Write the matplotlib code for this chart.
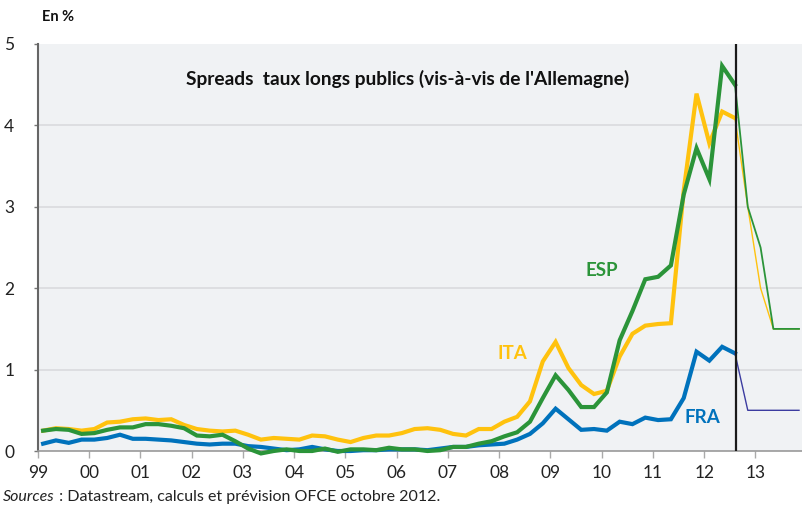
import numpy as np
import matplotlib
matplotlib.use("Agg")
import matplotlib.pyplot as plt

plt.rcParams['font.family'] = ['Lato', 'DejaVu Sans']

# quarterly spreads vs Germany, 1999Q1 - 2012Q3 (observed)
esp = [0.25, 0.27, 0.26, 0.21, 0.22, 0.26, 0.29, 0.29, 0.33, 0.33,
       0.31, 0.28, 0.19, 0.18, 0.20, 0.12, 0.03, -0.03, 0.00, 0.02,
       0.00, 0.00, 0.03, -0.01, 0.02, 0.02, 0.01, 0.04, 0.02, 0.02,
       0.00, 0.01, 0.05, 0.05, 0.09, 0.12, 0.18, 0.23, 0.36,
       0.65, 0.93, 0.75, 0.54, 0.54, 0.72, 1.36, 1.72, 2.11, 2.14,
       2.28, 3.15, 3.72, 3.34, 4.73, 4.50]
ita = [0.25, 0.28, 0.27, 0.25, 0.27, 0.35, 0.36, 0.39, 0.40, 0.38,
       0.39, 0.32, 0.27, 0.25, 0.24, 0.25, 0.20, 0.14, 0.16, 0.15,
       0.14, 0.19, 0.18, 0.14, 0.11, 0.16, 0.19, 0.19, 0.22, 0.27,
       0.28, 0.26, 0.21, 0.19, 0.27, 0.27, 0.36, 0.42, 0.61,
       1.10, 1.34, 1.02, 0.81, 0.70, 0.74, 1.16, 1.44, 1.54, 1.56,
       1.57, 3.20, 4.39, 3.78, 4.17, 4.09]
fra = [0.09, 0.13, 0.10, 0.14, 0.14, 0.16, 0.20, 0.15, 0.15, 0.14,
       0.13, 0.11, 0.09, 0.08, 0.09, 0.09, 0.06, 0.05, 0.03, 0.01,
       0.02, 0.05, 0.02, 0.00, 0.00, 0.01, 0.01, 0.02, 0.02, 0.02,
       0.01, 0.03, 0.05, 0.05, 0.07, 0.08, 0.09, 0.14, 0.21,
       0.34, 0.52, 0.39, 0.26, 0.27, 0.25, 0.36, 0.33, 0.41, 0.38,
       0.39, 0.65, 1.22, 1.11, 1.28, 1.20]

# OFCE forecast, 2012Q3 - 2013Q4
esp_prev = [4.50, 3.0, 2.5, 1.5, 1.5, 1.5]
ita_prev = [4.09, 3.0, 2.0, 1.5, 1.5, 1.5]
fra_prev = [1.20, 0.5, 0.5, 0.5, 0.5, 0.5]

year_labels = ['99', '00', '01', '02', '03', '04', '05', '06',
               '07', '08', '09', '10', '11', '12', '13']

c_ita = '#ffc20e'
c_esp = '#2b9439'
c_fra = '#0072bc'

x = 1999.1 + 0.25 * np.arange(len(esp))
xp = x[-1] + 0.25 * np.arange(len(esp_prev))

fig = plt.figure(figsize=(8.02, 5.11), dpi=100)
ax = fig.add_axes([38 / 802, 1 - 451 / 511, 1 - 38 / 802, (451 - 44) / 511])
ax.set_facecolor('#f0f2f4')

for v in [1, 2, 3, 4]:
    ax.axhline(v, color='#dadbde', lw=1.2, zorder=1)

ax.plot(x, ita, color=c_ita, lw=3, zorder=3, solid_joinstyle='miter', clip_on=False)
ax.plot(x, fra, color=c_fra, lw=3, zorder=4, solid_joinstyle='miter', clip_on=False)
ax.plot(x, esp, color=c_esp, lw=3, zorder=5, solid_joinstyle='miter', clip_on=False)

# forecast in thin lines
ax.plot(xp, ita_prev, color=c_ita, lw=1, zorder=3)
ax.plot(xp, fra_prev, color='#3c3ca0', lw=1, zorder=4)
ax.plot(xp, esp_prev, color=c_esp, lw=1.3, zorder=5)

ax.axvline(x[-1] + 0.03, color='#1a1a1a', lw=1.6, zorder=6)

ax.set_xlim(1999, 1999 + (802 - 38.7) / 51.2)
ax.set_ylim(0, 5)
ax.set_yticks([0, 1, 2, 3, 4, 5])
ax.set_yticklabels(['0', '1', '2', '3', '4', '5'], fontsize=12.5, color='#222222')
ax.set_xticks(np.arange(1999, 2014))
ax.set_xticklabels(year_labels, fontsize=12.5, color='#222222')
ax.tick_params(axis='y', length=3, width=1, color='#777777', pad=14)
ax.tick_params(axis='x', length=5, width=1, color='#aaaaaa', pad=5)

for s in ['top', 'right']:
    ax.spines[s].set_visible(False)
ax.spines['left'].set_color('#666666')
ax.spines['left'].set_linewidth(1.5)
ax.spines['bottom'].set_color('#999999')
ax.spines['bottom'].set_linewidth(1.2)

ax.text((408 - 38) / 764, (451 - 79) / 407, "Spreads  taux longs publics (vis-à-vis de l'Allemagne)",
        transform=ax.transAxes, ha='center', va='center', fontsize=13.8,
        fontweight='bold', color='#111111')

ax.text(2010.0, 2.22, 'ESP', color=c_esp, fontsize=13.5, fontweight='bold', ha='center', va='center')
ax.text(2008.26, 1.2, 'ITA', color=c_ita, fontsize=13.5, fontweight='bold', ha='center', va='center')
ax.text(2011.97, 0.41, 'FRA', color=c_fra, fontsize=13.5, fontweight='bold', ha='center', va='center')

fig.text(42 / 802, 1 - 17 / 511, 'En %', fontsize=10.5, fontweight='bold',
         ha='left', va='center', color='#111111')
src = fig.text(3 / 802, 1 - 497 / 511, 'Sources', fontsize=11.5, style='italic',
               ha='left', va='center', color='#222222')
ax.annotate(' : Datastream, calculs et prévision OFCE octobre 2012.',
            xy=(1, 0.5), xycoords=src, ha='left', va='center',
            fontsize=11.5, color='#222222', annotation_clip=False)

fig.savefig('out.png', dpi=100)
